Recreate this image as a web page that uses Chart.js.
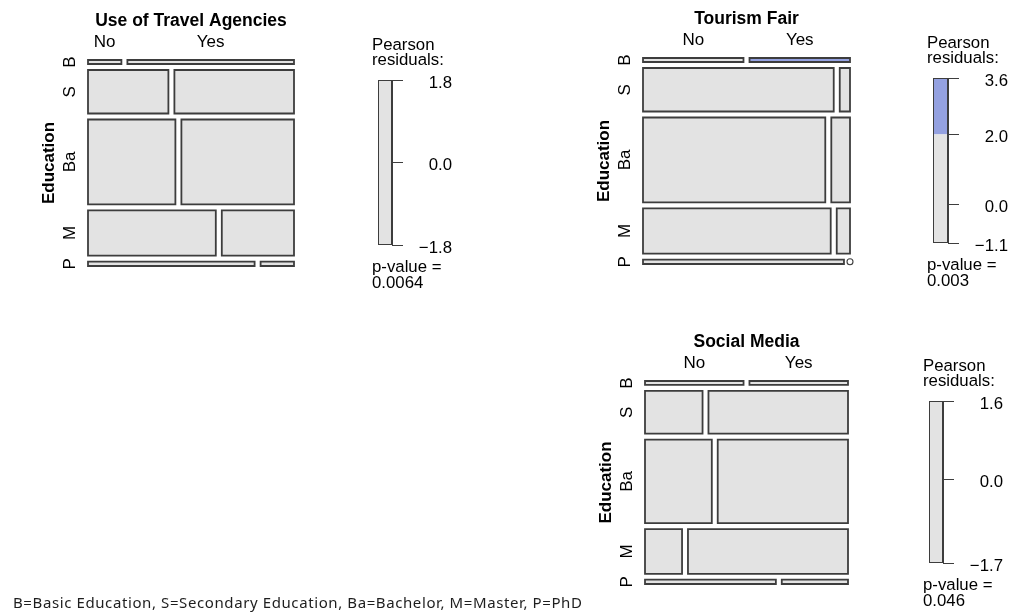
<!DOCTYPE html>
<html>
<head>
<meta charset="utf-8">
<script src="https://cdn.jsdelivr.net/npm/chart.js@4/dist/chart.umd.min.js"></script>
<style>
  html, body { margin: 0; padding: 0; background: #fff; }
  #page { position: relative; width: 1016px; height: 614px; overflow: hidden; background: #fff; }
  #page canvas { position: absolute; }
  #note {
    position: absolute; left: 13px; top: 592px;
    font-family: "Noto Sans", sans-serif; font-size: 15px; line-height: 20px;
    letter-spacing: 0.6px; color: #1e1e1e; white-space: nowrap;
  }
</style>
</head>
<body>
<div id="page">
  <canvas id="mosaicAgencies"></canvas>
  <canvas id="keyAgencies"></canvas>
  <canvas id="mosaicFair"></canvas>
  <canvas id="keyFair"></canvas>
  <canvas id="mosaicSocial"></canvas>
  <canvas id="keySocial"></canvas>
  <div id="note">B=Basic Education, S=Secondary Education, Ba=Bachelor, M=Master, P=PhD</div>
</div>
<script>
// Education levels (rows) and each level's share of respondents, in %
const educationLevels = ['B', 'S', 'Ba', 'M', 'P'];
const educationShare = [2.2, 23.9, 46.6, 24.9, 2.4];
const answers = ['No', 'Yes'];

// Share answering "No" within each education level, in %
const travelAgenciesNo = [16.7, 40.2, 43.7, 63.9, 83.3];
const tourismFairNo = [50.0, 94.9, 90.7, 93.4, 100.0];
const socialMediaNo = [50.0, 29.2, 33.9, 18.8, 66.4];

// Cells with Pearson residual above +2, as [row, column]
const travelAgenciesHigh = [];
const tourismFairHigh = [[0, 1]];
const socialMediaHigh = [];

// Residual colour-key ticks (first = max, last = min) and test p-values
const travelAgenciesResiduals = [1.8, 0.0, -1.8];
const tourismFairResiduals = [3.6, 2.0, 0.0, -1.1];
const socialMediaResiduals = [1.6, 0.0, -1.7];
const travelAgenciesP = '0.0064';
const tourismFairP = '0.003';
const socialMediaP = '0.046';

const FONT = '"Liberation Sans", Arial, Helvetica, sans-serif';
const FILL = '#e3e3e3';
const HIGH = '#94a1e0';
const EDGE = '#3d3d3d';
const GAP = 6 / 206;          // spacing between tiles, as a fraction of the panel side
const SHADE_LIMIT = 2;        // residual beyond which a tile is shaded

Chart.defaults.font.family = FONT;
Chart.defaults.color = '#000';

function place(canvas, box) {
  const [left, top, width, height] = box;
  canvas.width = width; canvas.height = height;
  canvas.style.left = left + 'px'; canvas.style.top = top + 'px';
  canvas.style.width = width + 'px'; canvas.style.height = height + 'px';
}

// Tile geometry in data units: rows by education share, columns by No/Yes share
function mosaicData(noShares, high) {
  const gx = 100 * GAP / (1 - GAP);
  const gy = 100 * GAP / (1 - 4 * GAP);
  const datasets = [];
  const rows = [];
  const cols = [];
  let y = 0;
  educationShare.forEach((h, r) => {
    const y0 = y, y1 = y + h;
    const no = noShares[r];
    const yes = 100 - no;
    const spans = [[0, no], [no + gx, no + gx + yes]];
    spans.forEach(([x0, x1], c) => {
      if (r === 0) cols.push({ label: answers[c], center: (x0 + x1) / 2 });
      if (x1 - x0 <= 0) {
        // empty cell: drawn as a small open circle
        datasets.push({
          type: 'scatter', data: [{ x: x0, y: (y0 + y1) / 2 }],
          pointRadius: 3, pointHoverRadius: 3, pointStyle: 'circle',
          pointBackgroundColor: '#fff', pointBorderColor: EDGE, pointBorderWidth: 1.1,
          showLine: false, clip: false
        });
        return;
      }
      const isHigh = high.some(([hr, hc]) => hr === r && hc === c);
      datasets.push({
        type: 'scatter', showLine: true, fill: 'shape', clip: false,
        data: [{ x: x0, y: y0 }, { x: x1, y: y0 }, { x: x1, y: y1 }, { x: x0, y: y1 }, { x: x0, y: y0 }],
        borderColor: EDGE, borderWidth: 1.8, borderJoinStyle: 'miter', borderCapStyle: 'square',
        backgroundColor: isHigh ? HIGH : FILL,
        pointRadius: 0, pointHoverRadius: 0, tension: 0
      });
    });
    rows.push({ label: educationLevels[r], center: (y0 + y1) / 2 });
    y = y1 + gy;
  });
  return { datasets, rows, cols, xMax: 100 + gx, yMax: y - gy };
}

// Title, column labels, row labels and the row-variable name
const mosaicLabels = {
  id: 'mosaicLabels',
  afterDraw(chart, args, opts) {
    const { ctx, chartArea: a, scales: { x, y } } = chart;
    ctx.save();
    ctx.fillStyle = '#000';
    ctx.textAlign = 'center';
    ctx.textBaseline = 'alphabetic';
    ctx.font = 'bold 17.5px ' + FONT;
    ctx.fillText(opts.title, (a.left + a.right) / 2, a.top - 34);
    ctx.font = '17px ' + FONT;
    opts.cols.forEach(c => ctx.fillText(c.label, x.getPixelForValue(c.center), a.top - 13));
    opts.rows.forEach(r => {
      ctx.save();
      ctx.translate(a.left - 13, y.getPixelForValue(r.center));
      ctx.rotate(-Math.PI / 2);
      ctx.fillText(r.label, 0, 0);
      ctx.restore();
    });
    ctx.save();
    ctx.font = 'bold 17px ' + FONT;
    ctx.translate(a.left - 34, (a.top + a.bottom) / 2);
    ctx.rotate(-Math.PI / 2);
    ctx.fillText(opts.rowTitle, 0, 0);
    ctx.restore();
    ctx.restore();
  }
};

function drawMosaic(id, box, area, title, noShares, high) {
  const canvas = document.getElementById(id);
  place(canvas, box);
  const m = mosaicData(noShares, high);
  return new Chart(canvas, {
    type: 'scatter',
    data: { datasets: m.datasets },
    options: {
      responsive: false, animation: false, devicePixelRatio: 1, events: [],
      layout: { padding: {
        left: area[0] - box[0], top: area[1] - box[1],
        right: box[0] + box[2] - area[2], bottom: box[1] + box[3] - area[3]
      } },
      scales: {
        x: { type: 'linear', min: 0, max: m.xMax, display: false },
        y: { type: 'linear', min: 0, max: m.yMax, reverse: true, display: false }
      },
      plugins: {
        legend: { display: false }, tooltip: { enabled: false },
        mosaicLabels: { title, rows: m.rows, cols: m.cols, rowTitle: 'Education' }
      }
    },
    plugins: [mosaicLabels]
  });
}

const fmtResidual = v => (v < 0 ? '\u2212' : '') + Math.abs(v).toFixed(1);

// Captions above and below the residual colour key
const keyCaptions = {
  id: 'keyCaptions',
  afterDraw(chart, args, opts) {
    const { ctx, chartArea: a } = chart;
    ctx.save();
    ctx.fillStyle = '#000';
    ctx.textAlign = 'left';
    ctx.textBaseline = 'alphabetic';
    ctx.font = '16.8px ' + FONT;
    const x0 = a.left - 6;
    ctx.fillText('Pearson', x0, a.top - 30);
    ctx.fillText('residuals:', x0, a.top - 15);
    ctx.fillText('p-value =', x0, a.bottom + 27);
    ctx.fillText(opts.p, x0, a.bottom + 43);
    ctx.restore();
  }
};

function drawKey(id, box, area, residualTicks, p) {
  const canvas = document.getElementById(id);
  place(canvas, box);
  const top = Math.max(...residualTicks);
  const bottom = Math.min(...residualTicks);
  // colour fills first, outline drawn on top (lower order = drawn later)
  const bars = [{ data: [[bottom, Math.min(SHADE_LIMIT, top)]], backgroundColor: FILL, borderWidth: 0, order: 2 }];
  if (top > SHADE_LIMIT) bars.push({ data: [[SHADE_LIMIT, top]], backgroundColor: HIGH, borderWidth: 0, order: 1 });
  bars.push({ data: [[bottom, top]], backgroundColor: 'rgba(0,0,0,0)', borderColor: EDGE, borderWidth: 1, borderSkipped: false, order: 0 });
  bars.forEach(b => Object.assign(b, { grouped: false, barPercentage: 1, categoryPercentage: 1, inflateAmount: 0 }));
  return new Chart(canvas, {
    type: 'bar',
    data: { labels: [''], datasets: bars },
    options: {
      responsive: false, animation: false, devicePixelRatio: 1, events: [],
      layout: { padding: {
        left: area[0] - box[0], top: area[1] - box[1], right: 0,
        bottom: box[1] + box[3] - area[3]
      } },
      scales: {
        x: { display: false },
        y: {
          type: 'linear', position: 'right', min: bottom, max: top,
          afterBuildTicks: s => { s.ticks = residualTicks.map(v => ({ value: v })); },
          afterFit: s => { s.width = box[0] + box[2] - area[2]; },
          grid: { drawOnChartArea: false, drawTicks: true, tickLength: 11, color: EDGE, lineWidth: 1 },
          border: { display: true, color: EDGE, width: 1 },
          ticks: {
            autoSkip: false, padding: 11, crossAlign: 'far', color: '#000', labelOffset: 3,
            font: { size: 16.8, family: FONT }, callback: v => fmtResidual(v)
          }
        }
      },
      plugins: { legend: { display: false }, tooltip: { enabled: false }, keyCaptions: { p } }
    },
    plugins: [keyCaptions]
  });
}

drawMosaic('mosaicAgencies', [0, 0, 330, 290], [88, 60, 294, 266], 'Use of Travel Agencies', travelAgenciesNo, travelAgenciesHigh);
drawKey('keyAgencies', [360, 30, 92, 270], [378, 80, 392, 245], travelAgenciesResiduals, travelAgenciesP);

drawMosaic('mosaicFair', [560, 0, 330, 290], [643, 58, 850, 264], 'Tourism Fair', tourismFairNo, tourismFairHigh);
drawKey('keyFair', [915, 28, 93, 272], [933, 78, 948, 243], tourismFairResiduals, tourismFairP);

drawMosaic('mosaicSocial', [560, 320, 330, 294], [645, 381, 848, 584], 'Social Media', socialMediaNo, socialMediaHigh);
drawKey('keySocial', [911, 351, 92, 263], [929, 401, 943, 563], socialMediaResiduals, socialMediaP);
</script>
</body>
</html>
